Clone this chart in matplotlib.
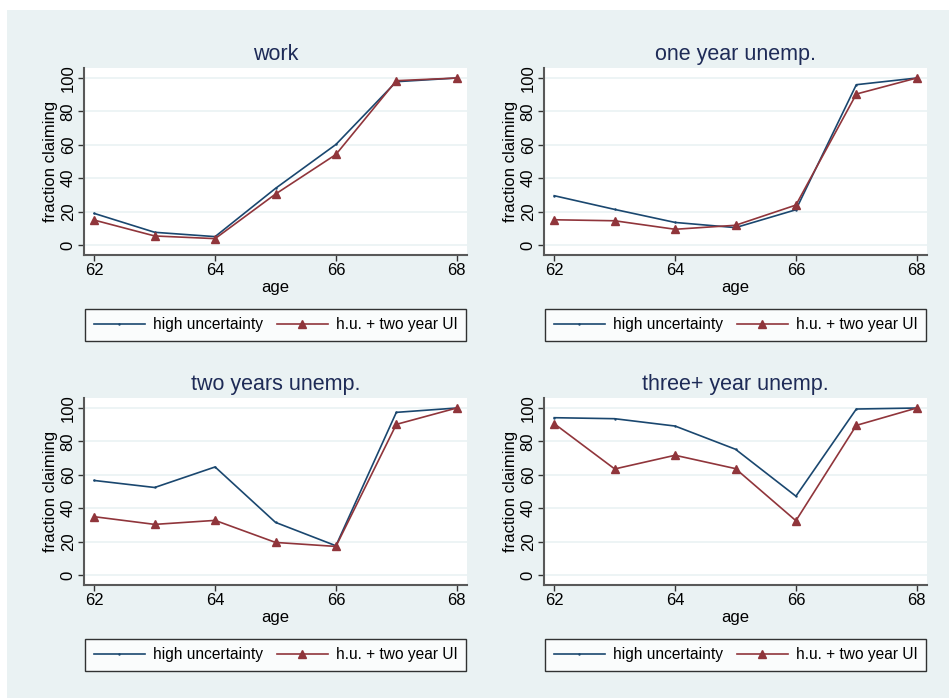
import matplotlib
matplotlib.use("Agg")
import matplotlib.pyplot as plt
from matplotlib.lines import Line2D
from matplotlib.patches import Rectangle

plt.rcParams['font.family'] = ['Liberation Sans', 'DejaVu Sans']

# claiming rates by age, four labour-market histories
ages = [62, 63, 64, 65, 66, 67, 68]
titles = ["work", "one year unemp.", "two years unemp.", "three+ year unemp."]

high_unc = [
    [18.9, 7.6, 5.0, 33.9, 60.2, 97.8, 100.0],
    [29.5, 21.3, 13.5, 10.4, 21.1, 96.0, 100.0],
    [56.6, 52.4, 64.7, 31.5, 17.5, 97.4, 100.0],
    [94.2, 93.6, 89.2, 75.3, 47.2, 99.4, 100.0],
]
hu_two_ui = [
    [14.9, 5.4, 3.8, 30.5, 54.2, 98.4, 100.0],
    [15.1, 14.5, 9.4, 11.8, 23.9, 90.4, 100.0],
    [34.9, 30.3, 32.7, 19.5, 17.1, 90.2, 100.0],
    [90.6, 63.5, 71.7, 63.7, 32.5, 89.6, 100.0],
]

series_labels = ["high uncertainty", "h.u. + two year UI"]
xticks = [62, 64, 66, 68]
yticks = [0, 20, 40, 60, 80, 100]

navy = "#1a476f"
maroon = "#90353b"
bg = "#eaf2f3"
W, H = 949, 698

fig = plt.figure(figsize=(W / 100, H / 100), dpi=100)
fig.patch.set_facecolor("white")
fig.patches.append(Rectangle((7 / W, 0), 1, 1 - 10 / H, transform=fig.transFigure,
                             facecolor=bg, edgecolor="none", zorder=-10))

lefts = [84, 544]
tops = [68, 398]
aw, ah = 383, 187

for i in range(4):
    l = lefts[i % 2]
    t = tops[i // 2]
    ax = fig.add_axes([l / W, 1 - (t + ah) / H, aw / W, ah / H])
    ax.set_facecolor("white")

    ax.plot(ages, high_unc[i], color=navy, lw=1.2, marker='.', ms=1.5, zorder=3)
    ax.plot(ages, hu_two_ui[i], color=maroon, lw=1.2, marker='^', ms=5.5, zorder=3)

    ax.set_xlim(61.83, 68.17)
    ax.set_ylim(-6, 106)
    ax.set_xticks(xticks)
    ax.set_yticks(yticks)
    ax.grid(axis='y', color=bg, lw=1.2, zorder=0)
    ax.set_axisbelow(True)
    for s in ["top", "right"]:
        ax.spines[s].set_visible(False)
    for s in ["left", "bottom"]:
        ax.spines[s].set_color("#595959")
        ax.spines[s].set_linewidth(1.5)
    ax.tick_params(direction='out', length=4, width=1, color="#333333",
                   labelsize=12, pad=2)
    for lab in ax.get_yticklabels():
        lab.set_rotation(90)
        lab.set_va('center')
    ax.set_xlabel("age", fontsize=12, labelpad=1)
    ax.set_ylabel("fraction claiming", fontsize=12, labelpad=2)
    ax.set_title(titles[i], fontsize=15.5, color="#1e2b57", pad=6)

    handles = [
        Line2D([], [], color=navy, lw=1.2, marker='.', ms=1.5),
        Line2D([], [], color=maroon, lw=1.2, marker='^', ms=5.5),
    ]
    leg = ax.legend(handles, series_labels, loc='upper center',
                    bbox_to_anchor=(0.5, -0.245), ncol=2, fontsize=11.2,
                    frameon=True, fancybox=False, edgecolor="black",
                    handlelength=3.3, handletextpad=0.5, columnspacing=0.9,
                    borderpad=0.55)
    leg.get_frame().set_linewidth(1.0)

fig.savefig("out.png", dpi=100, facecolor=fig.get_facecolor())
